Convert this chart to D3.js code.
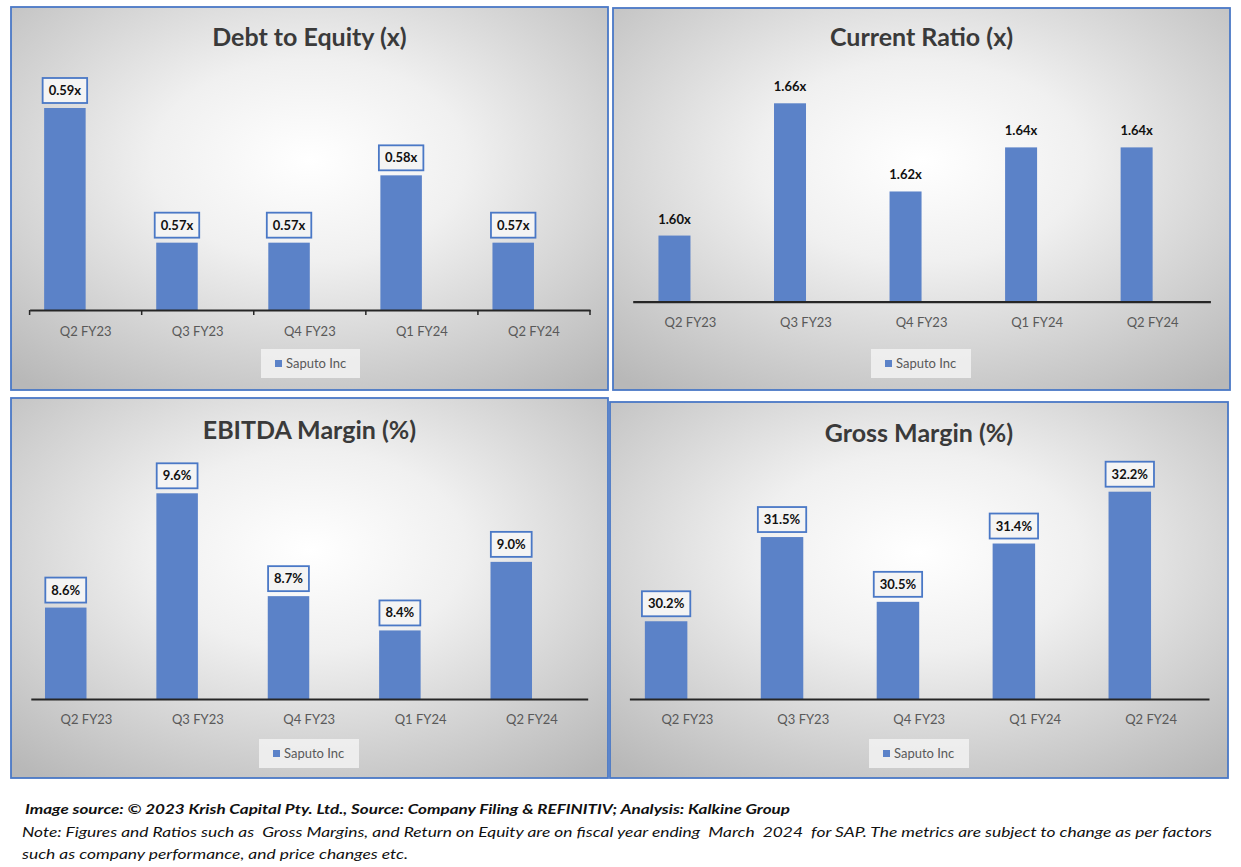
<!DOCTYPE html>
<html><head><meta charset="utf-8">
<script src="https://cdn.jsdelivr.net/npm/d3@7/dist/d3.min.js"></script>
<style>body{margin:0;background:#fff;} svg{display:block;} .ft{white-space:pre;}</style>
</head><body>
<svg id="c" width="1241" height="867"></svg>
<script>
// ---- data ----
const categories = ["Q2 FY23","Q3 FY23","Q4 FY23","Q1 FY24","Q2 FY24"];
const seriesName = "Saputo Inc";
const debtToEquity = [0.59,0.57,0.57,0.58,0.57];
const currentRatio = [1.60,1.66,1.62,1.64,1.64];
const ebitdaMargin = [8.6,9.6,8.7,8.4,9.0];
const grossMargin  = [30.2,31.5,30.5,31.4,32.2];
const titles = ["Debt to Equity (x)","Current Ratio (x)","EBITDA Margin (%)","Gross Margin (%)"];
const axisMins = [0.56,1.57,7.8,29.0];
const footer1 = "Image source: \u00A9 2023 Krish Capital Pty. Ltd., Source: Company Filing & REFINITIV; Analysis: Kalkine Group";
const footer2 = "Note: Figures and Ratios such as  Gross Margins, and Return on Equity are on fiscal year ending  March  2024  for SAP. The metrics are subject to change as per factors";
const footer3 = "such as company performance, and price changes etc.";

// ---- layout ----
const FONT = "Lato, 'Open Sans', sans-serif";
const BAR = "#5b82c8", BLUE = "#4a78c6";
const panels = [
  {values:debtToEquity, fmt:v=>v.toFixed(2)+"x", box:true, ticks:true,
   x0:11,y0:7,x1:608,y1:390, ax:[29.6,590], base:310, topY:108, barW:41.5, titleY:37, catY:331, leg:[261,349,99,29]},
  {values:currentRatio, fmt:v=>v.toFixed(2)+"x", box:false, ticks:false,
   x0:613,y0:8,x1:1230,y1:390, ax:[632.7,1210.4], base:301.7, topY:103.3, barW:32, titleY:37, catY:322, leg:[871,349,100,29]},
  {values:ebitdaMargin, fmt:v=>v.toFixed(1)+"%", box:true, ticks:false,
   x0:11,y0:398,x1:608,y1:778, ax:[30.8,587.7], base:699, topY:493.3, barW:41.5, titleY:430, catY:719, leg:[259,739,100,29]},
  {values:grossMargin, fmt:v=>v.toFixed(1)+"%", box:true, ticks:false,
   x0:610,y0:402,x1:1228,y1:778, ax:[629.4,1209], base:699, topY:491.7, barW:42.5, titleY:433, catY:719, leg:[869,739,100,29]}
];

const svg = d3.select("#c");
const defs = svg.append("defs");
const rg = defs.append("radialGradient").attr("id","bg").attr("cx","50%").attr("cy","40%").attr("r","75%");
rg.append("stop").attr("offset","0%").attr("stop-color","#ffffff");
rg.append("stop").attr("offset","35%").attr("stop-color","#f0f0f0");
rg.append("stop").attr("offset","100%").attr("stop-color","#b8b8b8");

panels.forEach((p,i)=>{
  const g = svg.append("g");
  g.append("rect").attr("x",p.x0).attr("y",p.y0).attr("width",p.x1-p.x0).attr("height",p.y1-p.y0)
    .attr("fill","url(#bg)").attr("stroke",BLUE).attr("stroke-width",1.8);
  g.append("text").attr("x",(p.x0+p.x1)/2).attr("y",p.titleY+9).attr("text-anchor","middle")
    .attr("font-family",FONT).attr("font-weight","bold").attr("font-size",25).attr("fill","#3a3a3a")
    .text(titles[i]);

  const x = d3.scaleBand().domain(categories).range(p.ax).paddingInner(0).paddingOuter(0);
  const y = d3.scaleLinear().domain([axisMins[i], d3.max(p.values)]).range([p.base, p.topY]);

  // bars (left slot of the category)
  g.selectAll(".bar").data(p.values).enter().append("rect")
    .attr("x",(d,j)=>x(categories[j])+x.bandwidth()/2-p.barW)
    .attr("width",p.barW)
    .attr("y",d=>y(d)).attr("height",d=>p.base-y(d))
    .attr("fill",BAR);

  // axis
  const axis = d3.axisBottom(x).tickSize(0).tickPadding(0).tickFormat("");
  const ag = g.append("g").attr("transform",`translate(0,${p.base})`).call(axis);
  ag.select(".domain").attr("stroke","#262626").attr("stroke-width",2.2);
  if(p.ticks){
    const bounds = categories.map(c=>x(c)).concat([p.ax[1]]);
    ag.selectAll(".tk").data(bounds).enter().append("line")
      .attr("x1",d=>d).attr("x2",d=>d).attr("y1",0).attr("y2",5).attr("stroke","#262626").attr("stroke-width",1.5);
  }
  g.selectAll(".cat").data(categories).enter().append("text")
    .attr("x",d=>x(d)+x.bandwidth()/2).attr("y",p.catY+5).attr("text-anchor","middle")
    .attr("font-family",FONT).attr("font-size",13).attr("fill","#595959").text(d=>d);

  // data labels
  p.values.forEach((v,j)=>{
    const cx = x(categories[j])+x.bandwidth()/2-p.barW/2;
    const top = y(v);
    if(p.box){
      const cy = top-17.5;
      const r = g.append("rect");
      const t = g.append("text").attr("x",cx).attr("y",cy+4.5).attr("text-anchor","middle")
        .attr("font-family",FONT).attr("font-weight","bold").attr("font-size",13).attr("fill","#111")
        .text(p.fmt(v));
      const w = t.node().getComputedTextLength()+12;
      r.attr("x",cx-w/2).attr("y",cy-12.5).attr("width",w).attr("height",25)
        .attr("fill","#f4f4f4").attr("stroke",BLUE).attr("stroke-width",1.8);
    } else {
      g.append("text").attr("x",cx).attr("y",top-12).attr("text-anchor","middle")
        .attr("font-family",FONT).attr("font-weight","bold").attr("font-size",13).attr("fill","#111")
        .text(p.fmt(v));
    }
  });

  // legend
  const [lx,ly,lw,lh] = p.leg;
  g.append("rect").attr("x",lx).attr("y",ly).attr("width",lw).attr("height",lh).attr("fill","#f2f2f2").attr("opacity",0.85);
  g.append("rect").attr("x",lx+14).attr("y",ly+lh/2-3.5).attr("width",7).attr("height",7).attr("fill",BAR);
  g.append("text").attr("x",lx+25).attr("y",ly+lh/2+4.5).attr("font-family",FONT).attr("font-size",13)
    .attr("fill","#595959").text(seriesName);
});

// footer
svg.append("text").attr("class","ft").attr("x",25).attr("y",814).attr("font-family",FONT).attr("font-style","italic").attr("font-weight","bold")
  .attr("font-size",14).attr("fill","#111").attr("textLength",765).attr("lengthAdjust","spacingAndGlyphs").text(footer1);
svg.append("text").attr("class","ft").attr("x",22).attr("y",837).attr("font-family",FONT).attr("font-style","italic")
  .attr("font-size",14).attr("fill","#111").attr("textLength",1190).attr("lengthAdjust","spacingAndGlyphs").text(footer2);
svg.append("text").attr("class","ft").attr("x",22).attr("y",859).attr("font-family",FONT).attr("font-style","italic")
  .attr("font-size",14).attr("fill","#111").attr("textLength",386).attr("lengthAdjust","spacingAndGlyphs").text(footer3);
</script>
</body></html>
